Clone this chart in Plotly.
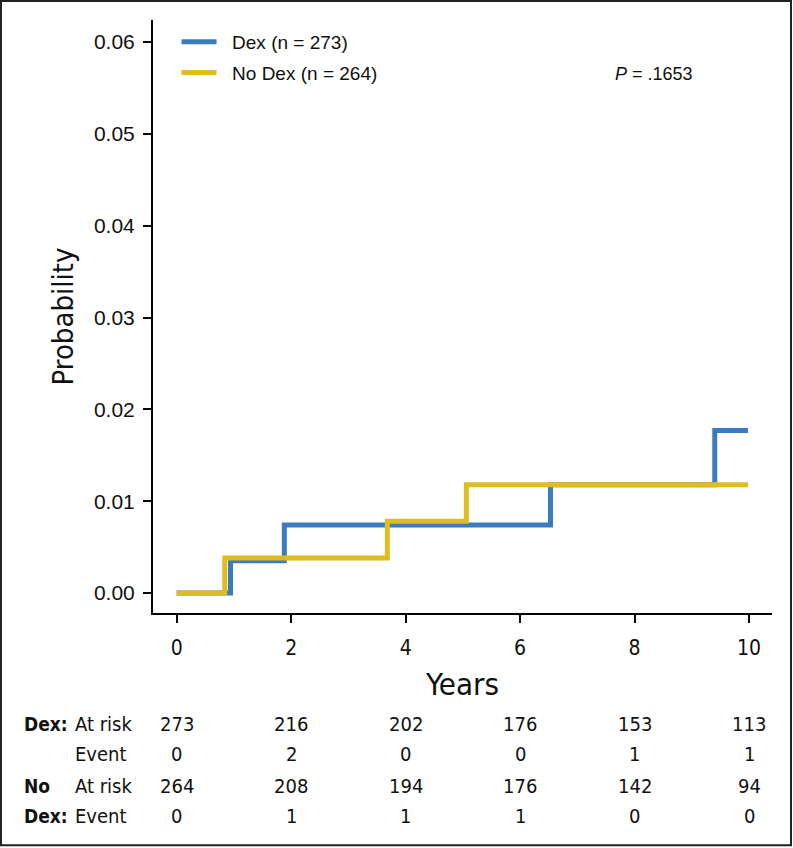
import plotly.graph_objects as go

# cumulative incidence steps
dex_years = [0, 0.94, 1.88, 6.53, 9.40, 9.98]
dex_prob = [0, 0.0035, 0.0074, 0.0118, 0.0177, 0.0177]
nodex_years = [0, 0.84, 3.68, 5.06, 9.98]
nodex_prob = [0, 0.0038, 0.0078, 0.0118, 0.0118]

# numbers-at-risk table
table_years = [0, 2, 4, 6, 8, 10]
dex_at_risk = [273, 216, 202, 176, 153, 113]
dex_events = [0, 2, 0, 0, 1, 1]
nodex_at_risk = [264, 208, 194, 176, 142, 94]
nodex_events = [0, 1, 1, 1, 0, 0]

BLUE = "#3b7bc0"
GOLD = "#dfbc1f"
NARROW = "Liberation Sans Narrow, DejaVu Sans Condensed, Arial Narrow, sans-serif"
ARIAL = "Liberation Sans, Arial, Helvetica, sans-serif"
PAD = "\u00a0\u00a0"  # a little extra gap between legend line and text

fig = go.Figure()
fig.add_trace(go.Scatter(x=dex_years, y=dex_prob, mode="lines", line_shape="hv",
                         line=dict(color=BLUE, width=5), name=PAD + "Dex (n = 273)",
                         legendgroup="a"))
fig.add_trace(go.Scatter(x=nodex_years, y=nodex_prob, mode="lines", line_shape="hv",
                         line=dict(color=GOLD, width=5), name=PAD + "No Dex (n = 264)",
                         legendgroup="b"))

fig.update_layout(
    width=793, height=848,
    margin=dict(l=153, r=21, t=20, b=235),
    plot_bgcolor="white", paper_bgcolor="white",
    font=dict(family=ARIAL, color="#111"),
    legend=dict(x=0.038, y=0.995, xanchor="left", yanchor="top",
                font=dict(size=19, family=ARIAL), tracegroupgap=3, itemwidth=35,
                bgcolor="rgba(0,0,0,0)"),
)
fig.update_xaxes(range=[-0.414, 10.40], tickvals=table_years, showgrid=False,
                 zeroline=False, showline=True, linecolor="black", linewidth=2,
                 ticks="outside", ticklen=8, tickwidth=1.5, tickcolor="black",
                 ticklabelstandoff=7,
                 tickfont=dict(family=NARROW, size=21),
                 title=dict(text="Years", font=dict(family=NARROW, size=31), standoff=14))
fig.update_yaxes(range=[-0.00218, 0.0624], tickvals=[0, 0.01, 0.02, 0.03, 0.04, 0.05, 0.06],
                 tickformat=".2f", showgrid=False, zeroline=False, showline=True,
                 linecolor="black", linewidth=2, ticks="outside", ticklen=8,
                 tickwidth=1.5, tickcolor="black", ticklabelstandoff=4,
                 tickfont=dict(family=ARIAL, size=21),
                 title=dict(text="Probability", font=dict(family=NARROW, size=29), standoff=12))

fig.add_annotation(x=0.810, y=0.909, xref="paper", yref="paper", showarrow=False,
                   xanchor="center", yanchor="middle",
                   text="<i>P</i> = .1653", font=dict(family=ARIAL, size=18))

# table below the plot
row_y = [-0.1872, -0.2378, -0.2917, -0.3423]
rows = [dex_at_risk, dex_events, nodex_at_risk, nodex_events]
for yy, vals in zip(row_y, rows):
    for xv, v in zip(table_years, vals):
        fig.add_annotation(x=xv, y=yy, xref="x", yref="paper", showarrow=False,
                           xanchor="center", yanchor="middle",
                           text=str(v), font=dict(family=NARROW, size=20))

labels = [("<b>Dex:</b>", "At risk"), ("", "Event"), ("<b>No</b>", "At risk"), ("<b>Dex:</b>", "Event")]
for yy, (grp, lab) in zip(row_y, labels):
    if grp:
        fig.add_annotation(x=-0.2116, y=yy, xref="paper", yref="paper", showarrow=False,
                           xanchor="left", yanchor="middle", text=grp,
                           font=dict(family=NARROW, size=19))
    fig.add_annotation(x=-0.129, y=yy, xref="paper", yref="paper", showarrow=False,
                       xanchor="left", yanchor="middle", text=lab,
                       font=dict(family=NARROW, size=20))

# outer frame
fig.add_shape(type="rect", xref="paper", yref="paper", x0=-0.2456, x1=1.0307,
              y0=-0.3917, y1=1.032, line=dict(color="#222", width=2))

fig.write_html("out.html", config={"displayModeBar": False},
               post_script="document.body.style.margin='0';")
